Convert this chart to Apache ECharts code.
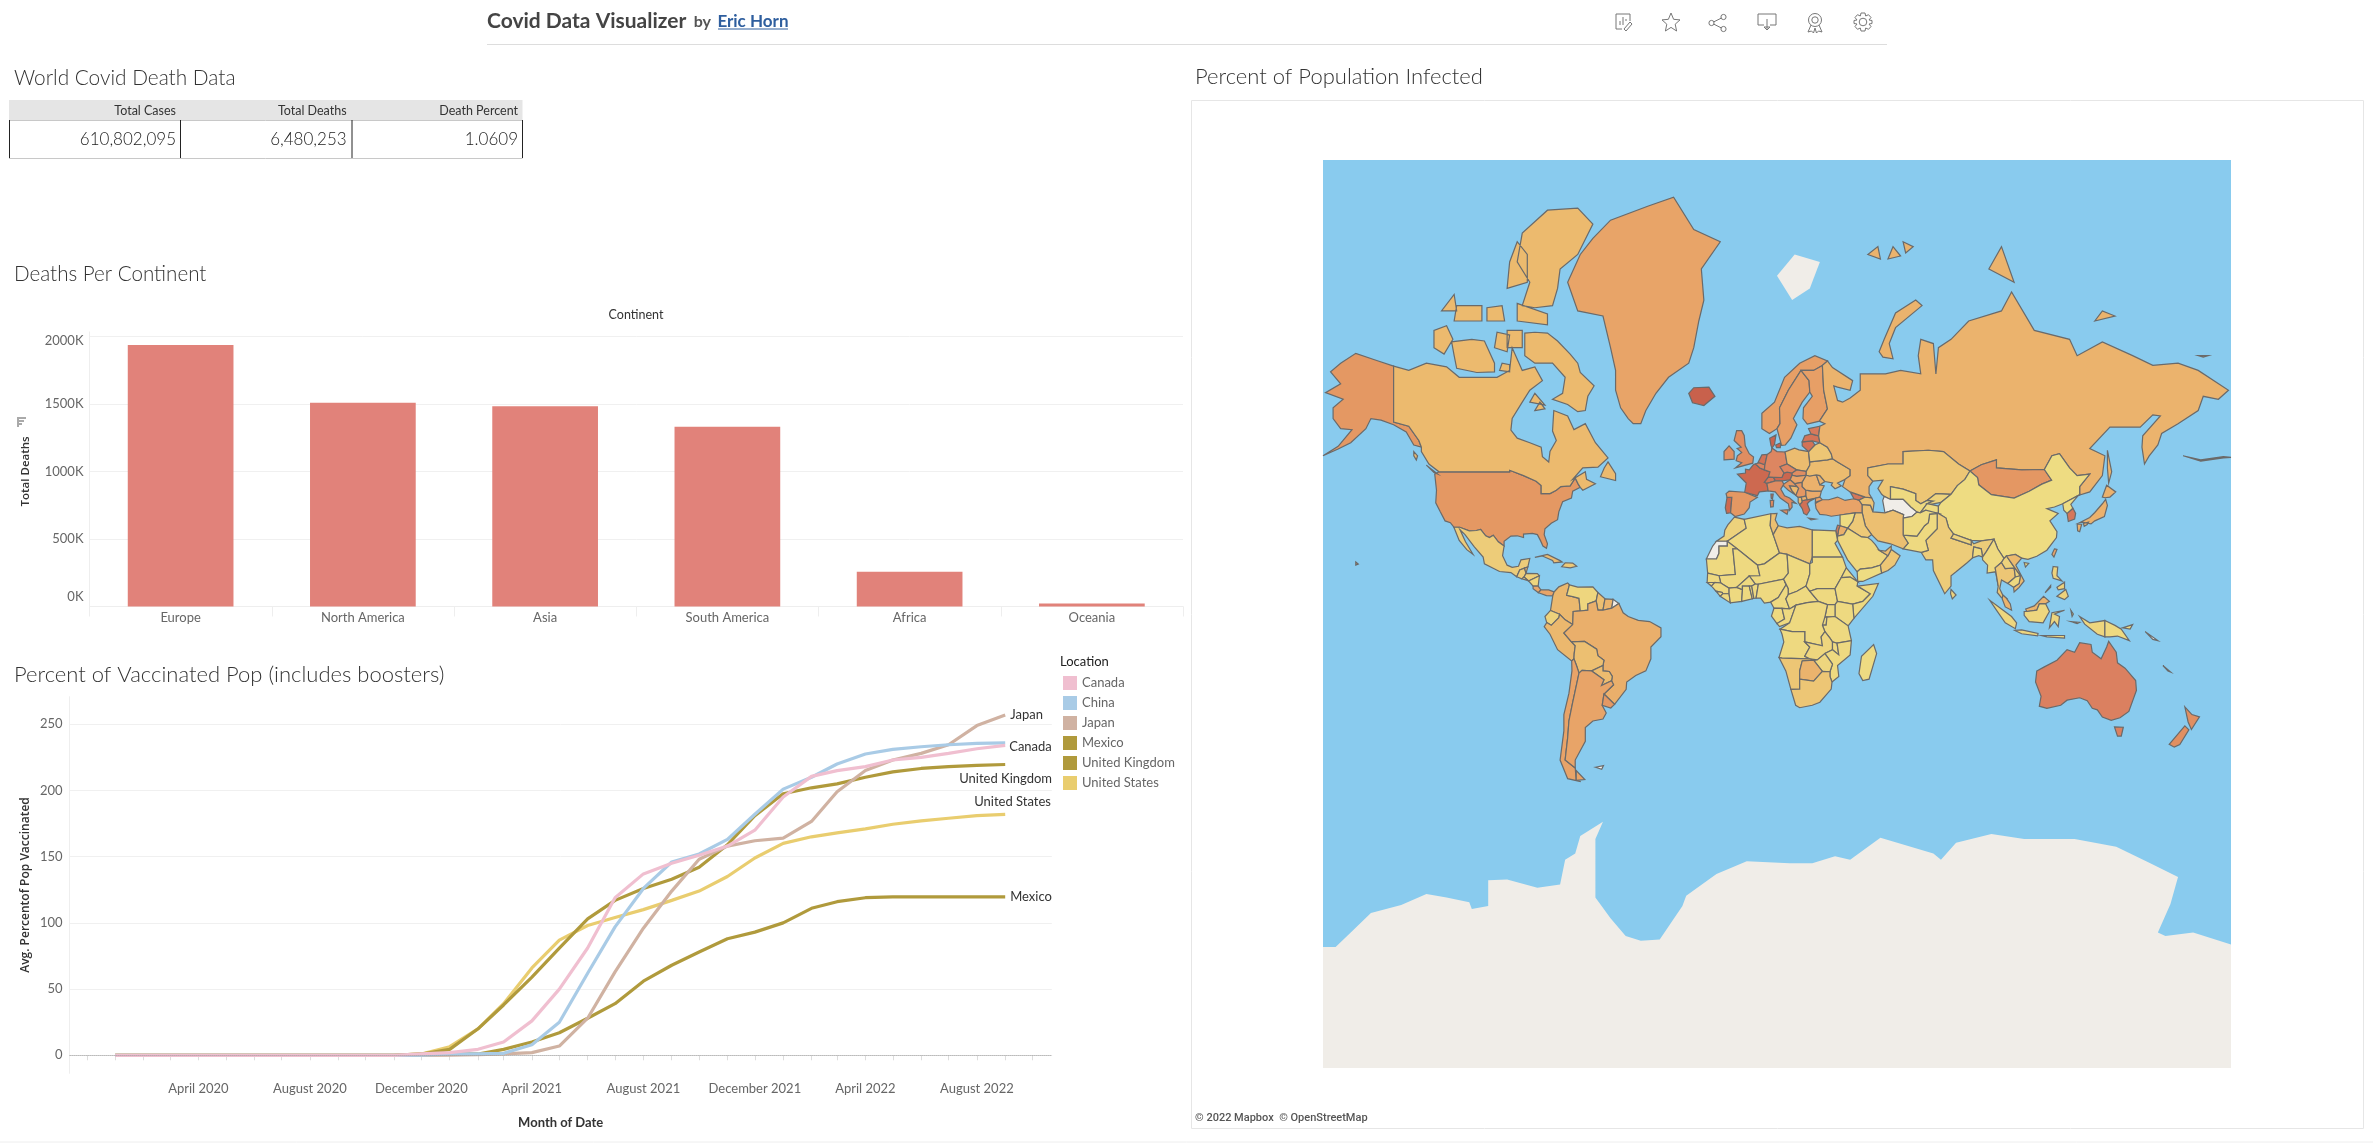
<!DOCTYPE html>
<html>
<head>
<meta charset="utf-8">
<title>Covid Data Visualizer</title>
<script src="https://cdn.jsdelivr.net/npm/echarts@6/dist/echarts.min.js"></script>
<style>
  html, body { margin: 0; padding: 0; background: #fff; }
  #main { width: 2373px; height: 1143px; }
</style>
</head>
<body>
<div id="main"></div>
<script>
// summary table
const tableHeaders = ['Total Cases', 'Total Deaths', 'Death Percent'];
const tableValues = ['610,802,095', '6,480,253', '1.0609'];

// deaths per continent
const continents = ['Europe', 'North America', 'Asia', 'South America', 'Africa', 'Oceania'];
const continentDeaths = [1935000, 1508000, 1483000, 1330000, 258000, 23000];

// vaccinated share per month
const months = [
  '2020-01-01', '2020-02-01', '2020-03-01', '2020-04-01', '2020-05-01', '2020-06-01', '2020-07-01', '2020-08-01',
  '2020-09-01', '2020-10-01', '2020-11-01', '2020-12-01', '2021-01-01', '2021-02-01', '2021-03-01', '2021-04-01',
  '2021-05-01', '2021-06-01', '2021-07-01', '2021-08-01', '2021-09-01', '2021-10-01', '2021-11-01', '2021-12-01',
  '2022-01-01', '2022-02-01', '2022-03-01', '2022-04-01', '2022-05-01', '2022-06-01', '2022-07-01', '2022-08-01', '2022-09-01'
];
const monthNames = ['January', 'February', 'March', 'April', 'May', 'June', 'July', 'August', 'September', 'October', 'November', 'December'];
const canada = [0, 0, 0, 0, 0, 0, 0, 0, 0, 0, 0, 1, 2, 4.5, 10, 26, 50, 81, 119, 137, 145, 151, 158, 170, 195, 210.6, 215, 218, 223, 225, 228, 231.5, 234];
const china = [0, 0, 0, 0, 0, 0, 0, 0, 0, 0, 0, 0.2, 1, 1, 1.5, 8, 25, 62, 97, 126, 146, 152, 163, 182, 201, 210, 220, 227.5, 231, 233, 234.5, 235.5, 236];
const japan = [0, 0, 0, 0, 0, 0, 0, 0, 0, 0, 0, 0, 0.2, 0.5, 1, 2, 7, 28, 63, 96, 124, 148, 158, 162, 164, 176.6, 199, 215, 223, 228, 234.5, 249, 257];
const mexico = [0, 0, 0, 0, 0, 0, 0, 0, 0, 0, 0, 0.5, 1, 1, 4.5, 10, 17, 28, 39, 56, 68, 78, 88, 93, 100, 111, 116, 119, 119.6, 119.6, 119.6, 119.6, 119.6];
const unitedKingdom = [0, 0, 0, 0, 0, 0, 0, 0, 0, 0, 0, 1, 4.5, 20, 38, 59, 81, 103, 117, 126, 133, 142, 159, 181, 197.5, 202, 205, 210, 214, 216.6, 218, 219, 219.6];
const unitedStates = [0, 0, 0, 0, 0, 0, 0, 0, 0, 0, 0, 1, 6.5, 20, 39, 66, 87, 98, 104, 110, 117, 124, 135, 149, 160, 165, 168, 171, 174.5, 177, 179, 181, 182];

// percent of population infected, countries left out have no data
const infectedNames = ['United States', 'Canada', 'Greenland', 'Mexico', 'Guatemala', 'Belize', 'Honduras', 'El Salvador', 'Nicaragua', 'Costa Rica', 'Panama', 'Cuba', 'Dominican Republic',
  'Colombia', 'Venezuela', 'Guyana', 'Suriname', 'Ecuador', 'Peru', 'Brazil', 'Bolivia', 'Paraguay', 'Chile', 'Argentina', 'Uruguay',
  'Iceland', 'Ireland', 'United Kingdom', 'Portugal', 'Spain', 'France', 'Belgium', 'Netherlands', 'Germany', 'Switzerland', 'Austria', 'Italy', 'Denmark', 'Norway', 'Sweden', 'Finland',
  'Poland', 'Czechia', 'Slovakia', 'Hungary', 'Croatia', 'Bosnia', 'Serbia', 'Albania', 'North Macedonia', 'Greece', 'Bulgaria', 'Romania', 'Moldova', 'Ukraine', 'Belarus', 'Lithuania', 'Latvia', 'Estonia',
  'Turkey', 'Georgia', 'Azerbaijan', 'Russia', 'Kazakhstan', 'Uzbekistan', 'Kyrgyzstan', 'Tajikistan', 'Mongolia', 'China', 'Taiwan', 'India', 'Pakistan', 'Afghanistan', 'Iran', 'Iraq', 'Syria', 'Jordan', 'Israel', 'Saudi Arabia', 'Yemen', 'Oman', 'UAE',
  'Nepal', 'Bangladesh', 'Sri Lanka', 'Myanmar', 'Thailand', 'Laos', 'Vietnam', 'Cambodia', 'Malaysia', 'Indonesia', 'Papua New Guinea', 'Philippines', 'Japan', 'South Korea', 'North Korea',
  'Morocco', 'Algeria', 'Tunisia', 'Libya', 'Egypt', 'Mauritania', 'Mali', 'Niger', 'Senegal', 'Guinea', 'Guinea-Bissau', 'Sierra Leone', 'Liberia', 'Ivory Coast', 'Burkina Faso', 'Ghana', 'Togo', 'Benin', 'Nigeria', 'Cameroon', 'Chad', 'Central African Republic', 'Sudan', 'South Sudan', 'Eritrea', 'Ethiopia', 'Somalia', 'Kenya', 'Uganda', 'Burundi', 'Tanzania', 'Gabon', 'Congo', 'DR Congo', 'Angola', 'Zambia', 'Malawi', 'Mozambique', 'Zimbabwe', 'Namibia', 'Botswana', 'South Africa', 'Madagascar',
  'Australia', 'New Zealand'];
const infectedPct = [28, 11, 21, 5, 5, 14, 4, 3, 2, 20, 21, 10, 6,
  12, 2, 9, 13, 3, 12, 16, 9, 10, 22, 21, 28,
  57, 33, 34, 52, 28, 52, 39, 47, 37, 45, 54, 35, 55, 24, 24, 24,
  10, 38, 34, 22, 28, 12, 29, 11, 15, 48, 18, 15, 14, 10, 7, 47, 46, 43,
  22, 45, 8, 14, 7, 1, 3, 0.5, 29, 0, 22, 5, 1, 0.5, 9, 6, 0.3, 16, 43, 2, 0.1, 7, 10,
  3, 1, 3, 1, 7, 3, 11, 1, 14, 2, 0.5, 3, 15, 45, 0,
  3, 0.6, 9, 7, 0.5, 1, 1, 1, 1, 1, 1, 1, 1, 1, 1, 1, 1, 1, 1, 1, 1, 1, 1, 1, 1, 1, 1, 1, 1, 1, 1, 1, 1, 1, 1, 2, 1, 1, 2, 7, 14, 7, 0.2,
  40, 33];

// outlines as "lon lat" pairs, ";" starts another polygon
const countryShapes = [
  ['United States', '-124.7 48.4,-123 49,-95 49,-95 49.4,-89.5 48,-84.5 46.5,-82.5 45.3,-82.5 43,-79 43,-76.5 44,-74.7 45,-71 45.2,-69 47.4,-67.8 45.7,-67 44.8,-70 43.7,-70.5 41.7,-74 40.6,-75.5 37.5,-76 35,-78.5 33.8,-81 32,-81.3 30,-80 26.8,-80.4 25.2,-81.8 26,-82.8 28,-84 30,-86 30.4,-89.5 30.2,-89.5 29,-92 29.6,-94.5 29.5,-97.2 27.7,-97.2 26,-99.5 27.5,-101.5 29.8,-103 29,-104.5 29.6,-106.5 31.8,-108.2 31.4,-111 31.3,-114.8 32.5,-117.1 32.5,-118.5 34,-120.6 34.6,-122.5 37.5,-124.3 40.3,-124 44;-141 69.6,-148 70.4,-156 71.3,-162 70,-166 68.8,-162 67,-168 65.6,-161 64.5,-165 63,-165 61,-162 59,-157.5 58.8,-163 55.2,-169 53,-163 54.6,-158 56,-152 59,-150 61,-146 60.7,-141 59.8,-136 58.3,-133 55.5,-130 55,-131 56.5,-135 59.5,-141 60.3;172 53,179 51.7,188 52.5,191 52.6,188 52.8,179 52;-156 20.2,-155 19.4,-156 19,-156 20'],
  ['Canada', '-141 69.6,-135 69,-128 70,-120 69.5,-115 68,-108 68,-100 68,-95 69,-94 72,-90 69,-85 69.5,-82 67.5,-87 66,-90 64,-94 61,-94.5 58.7,-92 57,-87 56,-82.5 55,-82 52.8,-79.5 51.5,-79 54,-76.5 56.5,-78 58.5,-77.5 62.5,-72 61.5,-69.5 58.8,-65 60,-61 56,-56 52.5,-60 50.2,-66 50,-70 47,-65 49,-64.5 47,-61 45.8,-66 44,-67 44.8,-67.8 45.7,-69 47.4,-71 45.2,-74.7 45,-76.5 44,-79 43,-82.5 43,-82.5 45.3,-84.5 46.5,-89.5 48,-95 49.4,-95 49,-123 49,-127 51,-130 54,-130 55,-131 56.5,-135 59.5,-141 60.3;-61.5 66.7,-64 65,-65 62.5,-68 62.3,-72 63.6,-78 64.5,-74 65.5,-73 68,-78 70,-85 70,-89 71,-89 73.7,-85 73.8,-80 73.7,-76 72.8,-71 71.2,-68 70,-67 68.7;-117 71,-116 69.3,-108 68.7,-101 68.8,-101 70,-105 72.8,-110 73,-118 72.7;-125 72,-121 71.2,-117.5 73,-120 74.5,-125 74;-90 76.5,-85 76.3,-78 76.5,-76 78,-75 79.5,-68 80.5,-62 82.3,-68 83.1,-80 83,-90 81.8,-92 80,-87 78.5;-92 75,-80 74.6,-80 75.7,-92 76.7;-117 75,-106 75,-106 76.5,-116 76.5;-96 72,-90 72,-90 74,-96 74;-96 78,-88 78.5,-88 80.5,-92 81.3,-95 80;-87 64,-81 63.5,-85 65.5;-59 47.7,-53 46.7,-53 48.5,-56 51.5,-57.5 50;-128 50.7,-123.5 48.4,-125 48.8;-133 54,-131.5 53,-132 52,-133 53;-101 72,-96 71.5,-95 73.5,-100 73.8;-99 69,-95 68.8,-95 69.8,-98 70;-122 76,-116 76,-117 77.5;-104 75,-97 75,-98 76.5,-104 76.3;-85 62.5,-81 62.8,-83 64'],
  ['Greenland', '-46 60,-43 60,-41 62.5,-37 65.5,-32 68,-24 70,-22 72,-20 75,-18 77,-19 79.5,-11.5 81.3,-22 82,-30 83.6,-40 83.2,-55 82.5,-62 81.5,-67 80.5,-72 78.5,-68 76,-58 75.5,-55 72,-53 69,-53 66,-51 63,-48 61'],
  ['Mexico', '-117.1 32.5,-114.8 32.5,-111 31.3,-108.2 31.4,-106.5 31.8,-104.5 29.6,-103 29,-101.5 29.8,-99.5 27.5,-97.2 26,-97.8 22.5,-96 19,-94 18.2,-91.5 18.6,-90.5 21,-87 21.5,-87.8 18.3,-89.1 17.9,-91 17.2,-92.2 14.6,-94.5 16.2,-99 16.6,-105 19.5,-105.5 22,-109 25.7,-112.7 30,-114.7 31.7,-112.5 27.5,-109.5 23,-112 24.7,-115 28'],
  ['Guatemala', '-92.2 14.6,-91 17.2,-89.1 17.9,-88.5 15.9,-89.3 14.5,-90.2 13.8'],
  ['Belize', '-89.1 17.9,-87.8 18.3,-88.5 15.9'],
  ['Honduras', '-89.3 14.5,-88.5 15.9,-84 15.8,-83.2 15,-87.5 13'],
  ['El Salvador', '-90.2 13.8,-89.3 14.5,-87.5 13'],
  ['Nicaragua', '-87.5 13,-83.2 15,-83.7 11,-85.7 11'],
  ['Costa Rica', '-85.7 11,-83.7 11,-82.6 9.5,-83.6 8.4,-85.7 10'],
  ['Panama', '-82.6 9.5,-79.5 9.5,-77.4 8.7,-77.9 7.2,-80.4 7.3,-83 8.2,-83.6 8.4'],
  ['Cuba', '-85 21.9,-80 23,-75 20.7,-74.2 20.2,-77.5 19.9,-78 20.8,-82 22.4'],
  ['Dominican Republic', '-74.4 18.4,-71 18,-68.4 18.6,-70 19.8,-73 19.9'],
  ['Colombia', '-77.4 8.7,-75.5 10.7,-72 12.2,-71.3 11.5,-72.4 7.4,-70 6.9,-67.5 6.2,-67 1.2,-69.8 1,-70 -4.2,-73 -2.3,-75.2 -0.1,-78.8 1.4,-77.9 7.2'],
  ['Venezuela', '-71.3 11.5,-68 10.6,-62 10.7,-60 8.5,-60.7 5.2,-64 4,-64 1.5,-67 1.2,-67.5 6.2,-70 6.9,-72.4 7.4'],
  ['Guyana', '-60 8.5,-57.2 6,-58 1.5,-60 1.5,-60.7 5.2'],
  ['Suriname', '-57.2 6,-54 5.8,-54.5 2.3,-58 1.5'],
  ['French Guiana', '-54 5.8,-51.7 4.2,-54.5 2.3'],
  ['Ecuador', '-78.8 1.4,-75.2 -0.1,-75.5 -1.5,-78.5 -4.5,-80.3 -3.4,-81 -1'],
  ['Peru', '-80.3 -3.4,-78.5 -4.5,-75.5 -1.5,-75.2 -0.1,-73 -2.3,-70 -4.2,-73.5 -7.5,-70.5 -11,-69 -12.5,-69.4 -15.5,-69.5 -17.5,-70.4 -18.3,-76 -14,-79 -8,-81.3 -5'],
  ['Brazil', '-60.7 5.2,-60 1.5,-58 1.5,-54.5 2.3,-51.7 4.2,-50 0.5,-48 -1,-44 -2.5,-39.5 -3,-35 -5.5,-35 -9,-39 -13,-39 -17.5,-41 -22,-45 -23.7,-48.6 -26,-48.8 -28.6,-53.4 -33.7,-57.6 -30.2,-53.8 -27,-54.6 -25.6,-54.3 -24,-55.5 -22.2,-58 -22,-58 -20,-57.6 -18,-60 -16.3,-60.5 -13.8,-65.3 -10.8,-70.5 -11,-73.5 -7.5,-70 -4.2,-69.8 1,-67 1.2,-64 1.5,-64 4'],
  ['Bolivia', '-69 -12.5,-70.5 -11,-65.3 -10.8,-60.5 -13.8,-60 -16.3,-57.6 -18,-58 -20,-62.5 -22,-66.3 -21.8,-67.5 -22.8,-68.5 -20,-69.5 -17.5,-69.4 -15.5'],
  ['Paraguay', '-58 -20,-58 -22,-55.5 -22.2,-54.3 -24,-54.6 -25.6,-58.6 -27.3,-57.6 -25.2,-62.5 -22'],
  ['Chile', '-70.4 -18.3,-69.5 -17.5,-68.5 -20,-67.5 -22.8,-68.5 -27,-70 -33,-71.5 -39,-72 -44,-73 -50,-69 -52,-68.6 -54.9,-66.8 -55.2,-72 -54.5,-75 -50,-73.5 -42,-73.5 -37,-71.5 -30,-70.3 -22'],
  ['Argentina', '-66.3 -21.8,-62.5 -22,-57.6 -25.2,-58.6 -27.3,-54.6 -25.6,-53.8 -27,-57.6 -30.2,-58.3 -34,-56.7 -36.5,-58 -38.4,-62 -39,-65 -41,-65 -45,-69 -50,-69 -52,-73 -50,-72 -44,-71.5 -39,-70 -33,-68.5 -27,-67.5 -22.8;-68.6 -52.6,-68.6 -54.9,-65.2 -54.7'],
  ['Uruguay', '-57.6 -30.2,-53.4 -33.7,-54.9 -34.9,-58.3 -34'],
  ['Falkland Islands', '-61 -51.8,-57.8 -51.4,-58.5 -52.3'],
  ['Iceland', '-24 65.5,-22 66.4,-16 66.5,-13.6 65,-18 63.4,-22.5 63.9'],
  ['Ireland', '-10 52,-6 52.2,-6 54,-8 55.3,-10 54'],
  ['United Kingdom', '-5.5 50,1.4 51.2,1.7 52.7,0 53.5,-1.6 55.3,-2 57.6,-3 58.6,-5 58.6,-6 56.5,-3.2 55,-4.8 54.7,-3 53.8,-4.7 53,-5.2 51.8,-3 51.3'],
  ['Portugal', '-9 37,-7.4 37.2,-6.9 41.9,-8.8 41.9,-9.5 38.8'],
  ['Spain', '-7.4 37.2,-5.6 36,-2 36.8,0 38.8,0.3 40.5,3.2 41.9,-1.8 43.4,-8 43.7,-9.2 43,-8.8 41.9,-6.9 41.9'],
  ['France', '-1.8 43.4,3.2 42.4,4 43.5,7.5 43.8,7 45.9,6 46.2,7.6 47.6,8.2 49,6 49.5,4.2 50,2.5 51,1.6 50.8,0 49.5,-1.5 49.7,-1.5 48.7,-4.7 48.4,-1.2 46;8.6 42.9,9.5 42.9,9.2 41.4,8.7 41.7'],
  ['Belgium', '2.5 51,4.2 50,6 49.5,6.2 50.8,4.2 51.4'],
  ['Netherlands', '3.5 51.4,6.2 50.8,7.1 53.3,5 53.2'],
  ['Germany', '6.2 50.8,6 49.5,8.2 49,7.6 47.6,13 47.5,13.8 48.7,12.2 50.3,15 51,14.2 53.9,11 54,9 54.8,8.7 54,7.1 53.3'],
  ['Switzerland', '6 46.2,7 45.9,10.4 46.6,9.6 47.5,7.6 47.6'],
  ['Austria', '9.6 47.5,10.4 46.6,13 46.6,16.2 46.9,17 48.1,17 48.7,15 48.9,13.8 48.7,13 47.5'],
  ['Italy', '7 45.9,7.5 43.8,10.3 43.5,12.3 41.7,15.5 40,16 38,17 39,16.9 40.4,18.5 40.1,16 41.7,14 42.4,12.5 44.3,13.7 45.7,13 46.6,10.4 46.6;12.5 38,15.5 38.2,15 36.7;8.3 41,9.7 41,9.5 39.1,8.5 39'],
  ['Denmark', '8.1 57,10.6 57.7,10 55.6,9 54.8,8.6 55.4;10.5 55.5,12.5 56,12.3 54.9,10.8 54.9'],
  ['Norway', '5 59,5 62,10 64,14 68,20 70,26 71,31 70.3,29 69.7,25.5 69,20.5 69,15.5 66,12 63,12.2 60,11 59,8 58'],
  ['Sweden', '11 59,12.2 60,12 63,15.5 66,20.5 69,23.7 67.5,24 65.7,21 64,17.5 61,18.9 59.8,16.5 57,14.3 55.5,12.8 55.4'],
  ['Finland', '23.7 67.5,20.5 69,25.5 69,29 69.7,29.5 66,31 62.8,27.8 60.5,23 59.9,21.3 61,21.5 63,25 65,24 65.7'],
  ['Poland', '14.2 53.9,15 51,18.8 49.5,22.6 49.1,24 50.7,23.5 54,19.7 54.4,18 54.8'],
  ['Czechia', '12.2 50.3,13.8 48.7,15 48.9,17 48.7,18.8 49.5,15 51'],
  ['Slovakia', '17 48.1,18.8 47.8,22.6 48.1,22.6 49.1,18.8 49.5,17 48.7'],
  ['Hungary', '16.2 46.9,18 45.8,21 46.2,22.6 48.1,18.8 47.8,17 48.1'],
  ['Croatia', '13.6 45.2,15.5 44,18.5 42.5,17 43.8,16 45.2,19 45,18 45.8,16.2 46.9,13.7 45.7'],
  ['Bosnia', '16 45.2,17 43.8,18.5 42.5,19.6 44.5,19 45'],
  ['Serbia', '19 45,19.6 44.5,18.5 42.5,19.4 41.9,20.6 42,22.5 42.3,22.4 44,21 45,21 46.2,18 45.8'],
  ['Albania', '19.4 41.9,20.6 42,21 40.9,21 40.5,20 39.7,19.4 40.5'],
  ['North Macedonia', '20.6 42,22.5 42.3,23 41.2,21 40.9'],
  ['Greece', '20 39.7,21 40.5,21 40.9,23 41.2,26.3 41.7,24 40.8,23 40,24 38,22.8 36.5,21.6 37,21 38.5;23.5 35.5,26.3 35.2,24.5 34.9'],
  ['Bulgaria', '22.4 44,22.5 42.3,23 41.2,26.3 41.7,28 42,28.6 43.7,25 43.7'],
  ['Romania', '21 46.2,21 45,22.4 44,25 43.7,28.6 43.7,29.7 45.2,28 45.5,26.6 48.2,24 47.9,22.6 48.1'],
  ['Moldova', '26.6 48.2,28 45.5,30 46.4,28 48'],
  ['Ukraine', '24 50.7,22.6 49.1,22.6 48.1,24 47.9,26.6 48.2,28 48,30 46.4,33 46,32.5 45.4,34 44.4,36.5 45.2,35 46,38 47,40 48,40 49.6,35 51.5,33 52.3,31 52,24 51.5'],
  ['Belarus', '24 51.5,31 52,33 52.3,32.5 53.5,31 55,28 56,26 55.5,23.5 54'],
  ['Lithuania', '21 55.3,23.5 54,26 55.5,25 56.4,21 56.2'],
  ['Latvia', '21 56.2,25 56.4,28 56,27.5 57.5,24.5 57.9,22 57.5'],
  ['Estonia', '23.5 59,28 59.5,27.5 57.5,24.5 57.9'],
  ['Turkey', '26.2 40,26.5 38.5,28 36.7,30.5 36.5,32.5 36.1,36 36.5,36.2 36.8,42 37.2,44.8 37.2,44.8 39.7,43.5 41.1,41.5 41.5,38 41,35 42,31.5 41.2,29 41.2,27 40.5;26.3 41.7,28 42,29 41.2,26.2 40.4'],
  ['Georgia', '40 43.5,46 42,43.5 41.1,41.5 41.5'],
  ['Azerbaijan', '43.5 41.1,46 42,48.5 41.8,49.5 40.3,49 37.5,48 39.5,44.8 39.7'],
  ['Russia', '28 59.5,30 60,27.8 60.5,31 62.8,29.5 66,29 69.7,31 70.3,33 69.4,41 67.5,40 66,35 66.5,33.5 66.7,35 64.3,37 64,40 64.7,44 66,44 68.5,54 68.5,60 69,68 68.5,67 71,68 73,73 72.5,74 68.5,75 72,80 73,87 75,100 76,104 77.7,113 74,127 73,130 71,140 72.7,152 71,160 69.7,170 70,178 69,190 66,186 64.5,180 65,178 62.5,170 60,163.5 58,162 55.5,158.5 52.9,156.7 51,155.7 55,156 57.5,163 61.5,160 61.7,155 59.3,143 59.3,135 54.7,141 53,140 48,135 43.5,131 42.6,131 45,135 48.4,130 48,127 50,123 53.5,120 53,117 49.6,108 49.5,98 50,98 52,92 50.8,87.5 49.2,83 51,77 54,71 54.3,61 54,61 51,55 51,47 50,47 48,49 46.5,47.5 45,47.5 43,48.5 41.8,46 42,40 43.5,37 45,38 47,40 48,40 49.6,35 51.5,33 52.3,32.5 53.5,31 55,28 56,27.5 57.5;142 54.3,143.7 49,142.5 46,142 50;51.5 71.5,53 70.8,57 70.6,55.5 72.5,58 74.3,68.5 76.5,66 77,58 75.8,53.5 73;95 79.5,105 78.5,100 81;137 75,145 75.5,140 76;47 80.5,52 80.2,51 81;55 80.2,60 80.4,57 81;62 80.6,65 81,61 81.3;178 71,182 71,180 70.8'],
  ['Kazakhstan', '47 50,55 51,61 51,61 54,71 54.3,77 54,83 51,87.5 49.2,85.5 47,82.5 45.3,80 42.8,74 43,70.5 41,68 40,66 41,66 43,61 44.3,56 45,56 41.3,53.5 42.2,52.5 42.8,51 44.5,53 46.8,49 46.5,47 48'],
  ['Uzbekistan', '56 45,61 44.3,66 43,66 41,68 40,70.5 41,73 40.8,70.5 40,67.8 37.2,66.5 37.4,64 39,61 41.3,56 41.3'],
  ['Turkmenistan', '53.5 42.2,52.9 41,53.8 37.2,57 38,61.2 36.6,61 35.5,64.5 36,66.5 37.4,64 39,61 41.3,56 41.3'],
  ['Kyrgyzstan', '70.5 41,74 43,80 42.8,76 40.4,72 39.8,70.5 40,73 40.8'],
  ['Tajikistan', '67.8 37.2,70.5 40,72 39.8,75 39.3,75 37,71.5 36.8,70 38'],
  ['Mongolia', '87.5 49.2,92 50.8,98 52,98 50,108 49.5,117 49.6,119.9 46.8,116 45.7,111 43.7,105 41.7,96 42.7,91 45.5,90.5 47.5'],
  ['China', '131 45,135 48.4,130 48,127 50,123 53.5,120 53,117 49.6,119.9 46.8,116 45.7,111 43.7,105 41.7,96 42.7,91 45.5,90.5 47.5,87.5 49.2,85.5 47,82.5 45.3,80 42.8,76 40.4,75 39.3,75 37,78 35.5,79 32.5,81 30.2,88 28,92 27.8,97 28.4,98.5 25,101 21.5,102 22.4,105.5 23,108 21.6,110.5 21.2,114 22.3,118 24.5,121.8 29,122 31,119.2 34.6,122.5 37,118 38.5,121 39,124.3 40,128 41.5,130.5 42.5,131 42.6;109 20,110.8 19.7,109.5 18.3'],
  ['Taiwan', '121 25,122 24.8,120.8 22,120 23'],
  ['India', '74.5 37,75 37,78 35.5,79 32.5,81 30.2,80 28.8,88 26.4,88 28,89 26.8,92 27.8,97 28.4,94 24,92.5 22,92 25,89 25.7,88.5 21.7,86.5 20,82 16.5,80 15,80 11,77.5 8,76 11,73 17,72.7 21,70 21,68.2 23.7,71 24.5,70 28,74.5 32,74.5 34.5'],
  ['Pakistan', '61 25,68.2 23.7,71 24.5,70 28,74.5 32,74.5 34.5,74.5 37,71.5 36.8,71 34,69.5 33,66.5 29.5,61 29.8,63 27'],
  ['Afghanistan', '61 29.8,66.5 29.5,69.5 33,71 34,71.5 36.8,75 37,70 38,67.8 37.2,66.5 37.4,64.5 36,61 35.5'],
  ['Iran', '44.8 39.7,44.8 37.2,46 33,48.5 30,51 27.8,56 26.8,61 25,63 27,61 29.8,61 35.5,61.2 36.6,57 38,53.8 37.2,49 37.5,48 39.5'],
  ['Iraq', '42 37.2,44.8 37.2,46 33,48.5 30,47 29,44.5 29.2,39 32.2,41 34.5'],
  ['Syria', '36 36.5,36.2 36.8,42 37.2,41 34.5,39 32.2,36 33'],
  ['Jordan', '36 33,39 32.2,37.5 30,35 29.5,35.5 32'],
  ['Israel', '34.3 31.3,35 33.2,36 33,35.5 32,35 29.5'],
  ['Saudi Arabia', '35 29.5,37.5 30,39 32.2,44.5 29.2,47 29,48.5 28,50 26.5,51.5 24.5,55 22.5,52 19,48.5 18,44 17.5,42.8 16.5,39 21,35 28'],
  ['Yemen', '43 12.8,45 12.8,52.5 16,52 19,48.5 18,44 17.5,42.8 16.5'],
  ['Oman', '52 19,55 22.5,56.3 24.8,59.8 22.5,57.7 19,55 17,52.5 16'],
  ['UAE', '51.5 24.5,54 24.2,56.3 26,56.3 24.8,55 22.5'],
  ['Nepal', '80 28.8,81 30.2,88 28,88 26.4'],
  ['Bangladesh', '89 25.7,92 25,92.5 22,91 22.5,88.5 21.7'],
  ['Sri Lanka', '80 9.7,82 7.5,80.5 6,79.8 8'],
  ['Myanmar', '92.5 22,94 24,97 28.4,98.5 25,101 21.5,100 20,97.5 18,98.7 11,97.7 16.5,94.3 16,94.5 19,92.5 21'],
  ['Thailand', '97.5 18,100 20,101.5 17.7,105 18,105.5 14.5,102.5 12,100 13.4,99.3 10,100.5 7.5,102 6.2,100 6.5,98.3 8.5,98.7 11'],
  ['Laos', '101 21.5,102 22.4,104.5 19,107.5 15,105.5 14.5,105 18,101.5 17.7,100 20'],
  ['Vietnam', '102 22.4,105.5 23,108 21.6,105.7 19,109 13,107 10.5,105 8.7,104.8 10.5,107 12,107.5 15,104.5 19'],
  ['Cambodia', '105.5 14.5,107.5 15,107 12,104.8 10.5,102.5 12'],
  ['Malaysia', '100.5 7.5,102 6.2,103.5 4,104 1.5,101.5 2.8,100.3 6;109.6 2,113 3.2,116.7 7,119 5,117.5 4.1,115 4,114 1.5,110 1'],
  ['Indonesia', '109 1,110 1,114 1.5,115 4,117.5 4.1,119 1,116.5 -3.5,111 -3,109 -0.5;95.3 5.5,100 2,104 -1,106 -3.5,105.5 -5.8,101.5 -3.5,98 1.5;105.3 -6.5,108 -6.3,114.5 -7.7,114.3 -8.6,108 -7.8;119 -5.5,120 0.5,125 1.5,121 0,123 -1,122.5 -5,121 -3;131 -1,135 -3.5,141 -2.6,141 -9,138 -8,133 -4;116 -8.5,125 -8.5,125 -9.5,118 -9;127.5 1.5,128.5 0,128 -1;127.5 -3,131 -3.3,130 -3.8'],
  ['Papua New Guinea', '141 -2.6,145 -4.5,147.5 -6,150.7 -10.5,146 -8.7,143 -9,141 -9;148 -5.5,152 -4.2,151 -6'],
  ['Solomon Islands', '157 -7,162 -10.5,160 -10'],
  ['New Caledonia', '164 -20,167 -22.4,166 -22'],
  ['Philippines', '120.5 18.5,122.3 18.3,122 15,124 13,120.5 14,120 16;122 7,125.5 9.7,126.5 7,125 5.7;117.3 8.4,119.5 11.2,119.5 10.5;122 10.5,125 12.5,125 10,122.5 9.5'],
  ['Japan', '130.9 34,135 35.7,137 37.3,140 40,141.3 41.3,142 39.5,140.8 36,137 34.6,135.5 33.6,132 34.2;130 33.5,131.8 33.5,131 31,130.2 31.3;140 42,141.7 45.4,145.3 43.5,143 42,141 41.8;132.5 33.8,134.5 34.2,134 33.4,132.8 32.8'],
  ['South Korea', '126 37,128.3 38.6,129.4 37,129 35.2,126.5 34.4'],
  ['North Korea', '124.3 40,128 41.5,130.5 42.5,127.5 39.8,128.3 38.6,126 37,124.7 38'],
  ['Morocco', '-5.9 35.8,-2 35.1,-1.2 32.2,-8.7 27.7,-13 27.7,-10 29.5,-9.7 31.5,-8.5 33.3'],
  ['Western Sahara', '-13 27.7,-8.7 27.7,-8.7 26,-12 26,-12 23.4,-13 21.3,-17 21.3,-14.5 26'],
  ['Algeria', '-2 35.1,8.6 36.9,8.3 33,9.5 30,12 23.5,6 19.5,3.3 19,-4.8 25,-8.7 27.7,-1.2 32.2'],
  ['Tunisia', '8.6 36.9,11 37,10.3 35,11.5 33,9.5 30,8.3 33'],
  ['Libya', '11.5 33,15 32.3,20 32.8,25 31.6,25 22,24 19.5,15 23,12 23.5,9.5 30'],
  ['Egypt', '25 31.6,34.3 31.3,35 28,34 27,37 22,25 22'],
  ['Mauritania', '-17 21.3,-13 21.3,-12 23.4,-12 26,-8.7 26,-8.7 27.7,-4.8 25,-6.5 25,-5.5 15.5,-12 15,-16.5 16'],
  ['Mali', '-12 15,-5.5 15.5,-6.5 25,-4.8 25,3.3 19,4.2 15,0 14.9,-5 10.5,-8 10.2,-11.3 12.2'],
  ['Niger', '4.2 15,3.3 19,6 19.5,12 23.5,15 23,15.5 16,13.6 13.7,3.6 11.7,2.4 11.8,0 14.9'],
  ['Senegal', '-16.5 16,-12 15,-11.3 12.2,-13.7 12.4,-16.7 12.4'],
  ['Guinea-Bissau', '-16.7 12.4,-13.7 12.4,-15 11'],
  ['Guinea', '-15 11,-13.7 12.4,-11.3 12.2,-8 10.2,-8 8,-10.5 8,-10.7 8.5,-13.2 9'],
  ['Sierra Leone', '-13.2 9,-10.7 8.5,-10.5 8,-11.5 7'],
  ['Liberia', '-11.5 7,-10.5 8,-8 8,-7.5 4.4'],
  ['Ivory Coast', '-8 8,-8 10.2,-5 10.5,-2.7 9.6,-3 5,-7.5 4.4'],
  ['Burkina Faso', '-5 10.5,0 14.9,2.4 11.8,1 11,0 11,-2.7 11,-2.7 9.6'],
  ['Ghana', '-2.7 11,0 11,1.2 6,-3 5,-2.7 9.6'],
  ['Togo', '0 11,1 11,1.8 6.2,1.2 6'],
  ['Benin', '1 11,2.4 11.8,3.6 11.7,2.7 6.3,1.8 6.2'],
  ['Nigeria', '2.7 6.3,3.6 11.7,13.6 13.7,14.6 11.5,11.5 6.5,8.5 4.7,6 4.3,4.5 6.3'],
  ['Cameroon', '8.5 4.7,11.5 6.5,14.6 11.5,14 13,15.5 10,15.5 7.7,14.5 6,16 2,13 2.2,9.8 2.3'],
  ['Chad', '13.6 13.7,15.5 16,15 23,24 19.5,24 15.7,22.5 11,18.9 9,15.5 7.7,15.5 10,14 13'],
  ['Central African Republic', '14.5 6,15.5 7.7,18.9 9,22.5 11,24 9,27.4 5,23 4.5,18.5 3.5,16 2'],
  ['Sudan', '24 19.5,25 20,25 22,37 22,38.5 18,36.5 14.3,34 10,33 10,27 10,24 9,22.5 11,24 15.7'],
  ['South Sudan', '24 9,27 10,33 10,34 10,35 5,34 3.7,31 3.7,27.4 5'],
  ['Eritrea', '38.5 18,43 12.7,40 14.5,36.5 14.3'],
  ['Ethiopia', '36.5 14.3,40 14.5,43 12.7,42.8 11,48 8,45 5,41 3.9,35 5,34 10'],
  ['Somalia', '43 11,51.2 12,49 7,41.5 -1.7,41 3.9,45 5,48 8'],
  ['Kenya', '35 5,41 3.9,41.5 -1.7,39.2 -4.7,34 -1,34 3.7'],
  ['Uganda', '31 3.7,34 3.7,34 -1,30 -1.2'],
  ['Burundi', '29 -1.2,30 -1.2,30.8 -1.2,30.5 -4.4,29 -4.4'],
  ['Tanzania', '30.8 -1.2,34 -1,39.2 -4.7,40.5 -10.5,34.8 -11.5,33 -11,32 -9.5,30 -7,29 -4.4,30.5 -4.4'],
  ['Gabon', '9.8 2.3,13 2.2,14 -2,11 -3.8,8.8 -0.8'],
  ['Congo', '13 2.2,16 2,18.5 3.5,16 -3.5,12 -5,11 -3.8,14 -2'],
  ['DR Congo', '18.5 3.5,23 4.5,27.4 5,31 3.7,30 -1.2,29 -4.4,30 -7,28.5 -9,29 -12.5,22 -11,22 -7,17 -7,12.2 -6,16 -3.5'],
  ['Angola', '12.2 -6,17 -7,22 -7,22 -11,24 -13,22 -16.5,24 -17.5,13 -17.2,11.8 -17,13.7 -11,13 -8'],
  ['Zambia', '22 -11,29 -12.5,28.5 -9,30 -7,32 -9.5,33 -11,33 -14,30 -15.5,27 -17.9,24 -17.5,22 -16.5,24 -13'],
  ['Malawi', '33 -11,34.8 -11.5,35.5 -16,33 -14'],
  ['Mozambique', '34.8 -11.5,40.5 -10.5,40 -16,35 -20,35.5 -24,32.8 -26,32 -24,32 -22.3,33 -19.5,30 -15.5,33 -14,35.5 -16'],
  ['Zimbabwe', '27 -17.9,30 -15.5,33 -19.5,32 -22.3,29 -22.2,25.5 -18'],
  ['Namibia', '11.8 -17,13 -17.2,24 -17.5,25.5 -18,21 -18.3,20 -22,20 -28.5,16.5 -28.6,14.5 -22'],
  ['Botswana', '21 -18.3,25.5 -18,29 -22.2,25.5 -25.7,20 -25,20 -22'],
  ['South Africa', '16.5 -28.6,20 -28.5,20 -25,25.5 -25.7,29 -22.2,32 -22.3,32 -24,32.8 -26,32.5 -28.5,28 -33,25 -34,20 -34.8,18.4 -34'],
  ['Madagascar', '49.3 -12,50.5 -15.5,47.5 -25,45 -25.5,43.5 -23,44.5 -16.5'],
  ['Australia', '114 -22,116.8 -20.6,122 -18,126 -14,129 -15,131 -11.3,135.5 -12,136 -15,139.5 -17.5,141.7 -13,142.5 -10.8,145.5 -15,146 -19,149 -21,153.2 -25.5,153.5 -29,150.5 -36,147 -38,143.5 -38.8,140 -37.8,138 -35.5,136 -35,134 -32.5,131 -31.5,126 -32.3,123.5 -34,118 -35,115 -34.3,115.7 -31,113.5 -26;144.8 -40.8,148.3 -40.9,147.5 -43.5,146 -43.5'],
  ['New Zealand', '172.7 -34.5,175.5 -37,178.5 -37.7,175.3 -41.6,174 -39.3;172.7 -40.5,174.3 -41.7,170.7 -45.9,168.5 -46.6,166.5 -45.8']
];

// ocean, ice and land without data sit under the countries
const baseShapes = [
  ['Ocean', '-169 85.05,191 85.05,191 -85.05,-169 -85.05'],
  ['Svalbard', '11 79,17 77,24 78,28 80,18 80.5'],
  ['Antarctica', '-169 -78.6,-164 -78.6,-158 -77.4,-150 -75.6,-138 -74.8,-128 -73.6,-120 -74,-111 -74.5,-110 -75.2,-103.5 -74.9,-103.5 -72,-96 -71.9,-84 -72.9,-75 -72.5,-73 -69.3,-69 -68.4,-67 -65.7,-58 -63.3,-61 -66.2,-61 -74,-55 -76.1,-49 -77.7,-43 -78.1,-35.5 -78,-26.5 -74.9,-25 -73.8,-13 -71.2,-1 -69.5,16 -69.8,25 -69.8,34 -68.8,40 -69.3,52 -66,64 -67.4,73 -68.4,76 -69.3,82 -66.8,96 -65.4,109 -66.2,129 -66.2,145.5 -67.4,159 -69.8,170 -71.6,167 -74.7,162 -77.4,165 -77.7,176 -77.4,191 -78.4,191 -85.05,-169 -85.05']
];

const lightFont = 'Lato';
const oliveLine = '#B09A3C';

// shapes list -> geojson for registerMap
function toGeoJson(shapes) {
  return {
    type: 'FeatureCollection',
    features: shapes.map(function (s) {
      return {
        type: 'Feature',
        properties: { name: s[0] },
        geometry: {
          type: 'MultiPolygon',
          coordinates: s[1].split(';').map(function (ring) {
            return [ring.split(',').map(function (p) { return p.trim().split(' ').map(Number); })];
          })
        }
      };
    })
  };
}

// web mercator, y grows downwards
const mercator = {
  project: function (c) {
    return [c[0], -Math.log(Math.tan(Math.PI / 4 + c[1] * Math.PI / 360)) * 180 / Math.PI];
  },
  unproject: function (p) {
    return [p[0], (2 * Math.atan(Math.exp(-p[1] * Math.PI / 180)) - Math.PI / 2) * 180 / Math.PI];
  }
};
const mapBounds = [[-169, 85.05], [191, -85.05]];

echarts.registerMap('base', toGeoJson(baseShapes));
echarts.registerMap('countries', toGeoJson(countryShapes));

const myChart = echarts.init(document.getElementById('main'));

function makeLine(name, values, color, labelOffset) {
  return {
    name: name,
    type: 'line',
    xAxisIndex: 1,
    yAxisIndex: 1,
    data: months.map(function (m, i) { return [m, values[i]]; }),
    showSymbol: false,
    silent: true,
    lineStyle: { color: color, width: 3.2 },
    itemStyle: { color: color },
    endLabel: labelOffset ? {
      show: true,
      formatter: '{a}',
      color: '#333',
      fontFamily: lightFont,
      fontSize: 13,
      offset: labelOffset
    } : { show: false }
  };
}

// top toolbar icons: centre x, polylines, circles (18px box)
const toolbarIcons = [
  [1623, [[[16, 8], [16, 1], [2, 1], [2, 16], [8, 16]], [[6, 12], [6, 8]], [[9, 12], [9, 4]], [[12, 8], [12, 6]], [[10, 16], [16, 9], [18, 11], [12, 18], [10, 16]]], []],
  [1671, [[[9, 0], [11.6, 6.3], [18, 6.9], [13.2, 11.2], [14.6, 18], [9, 14.4], [3.4, 18], [4.8, 11.2], [0, 6.9], [6.4, 6.3], [9, 0]]], []],
  [1718, [[[4.5, 9], [12.5, 5]], [[4.5, 11], [12.5, 15]]], [[14.5, 4, 2.6], [2.5, 10, 2.6], [14.5, 16, 2.6]]],
  [1767, [[[6, 12], [0, 12], [0, 1], [18, 1], [18, 12], [12, 12]], [[9, 6], [9, 16]], [[6, 14], [9, 17], [12, 14], [6, 14]]], []],
  [1815, [[[5, 12], [2, 19], [5.5, 18], [7.5, 20], [9, 15]], [[13, 12], [16, 19], [12.5, 18], [10.5, 20], [9, 15]]], [[9, 7, 6.5], [9, 7, 3.2]]],
  [1863, [[[7, 0], [11, 0], [11.7, 3], [14.5, 1.7], [17, 4.5], [15, 7], [18, 7.5], [18, 10.5], [15, 11], [17, 13.5], [14.5, 16.3], [11.7, 15], [11, 18], [7, 18], [6.3, 15], [3.5, 16.3], [1, 13.5], [3, 11], [0, 10.5], [0, 7.5], [3, 7], [1, 4.5], [3.5, 1.7], [6.3, 3], [7, 0]]], [[9, 9, 3.8]]]
];

function hLine(x1, x2, y, color, width) {
  return { type: 'line', silent: true, shape: { x1: x1, y1: y, x2: x2, y2: y }, style: { stroke: color, lineWidth: width || 1 } };
}
function vLine(x, y1, y2, color, width) {
  return { type: 'line', silent: true, shape: { x1: x, y1: y1, x2: x, y2: y2 }, style: { stroke: color, lineWidth: width || 1 } };
}

const tableRight = [176, 346.6, 518];
const graphics = [
  hLine(487, 1887, 44.5, '#DDDDDD'),
  hLine(718, 788, 29, '#2E5E9E', 1.2),
  { type: 'rect', silent: true, shape: { x: 1191.5, y: 100.5, width: 1172, height: 1028 }, style: { fill: 'none', stroke: '#E6E6E6' } },
  hLine(0, 2373, 1142, '#EEEEEE'),
  // summary table
  { type: 'rect', silent: true, shape: { x: 9, y: 100, width: 513.5, height: 20 }, style: { fill: '#E5E5E5' } },
  hLine(9, 522.5, 120.5, '#C8C8C8'),
  hLine(9, 522.5, 158.5, '#C8C8C8'),
  vLine(9.5, 120, 158, '#222'),
  vLine(180.5, 120, 158, '#222'),
  vLine(352, 120, 158, '#222'),
  vLine(522.5, 120, 158, '#222'),
  // extends the bar value axis above the top tick, and the sort mark
  vLine(89.5, 331.5, 336, '#EEEEEE'),
  vLine(18, 417, 427, '#555'),
  hLine(19, 26, 418, '#555'),
  hLine(19, 24, 421, '#555'),
  hLine(19, 22, 424, '#555')
];
tableHeaders.forEach(function (h, i) {
  graphics.push({ type: 'text', silent: true, x: tableRight[i], y: 111, style: { text: h, align: 'right', verticalAlign: 'middle', font: '12.5px ' + lightFont, fill: '#333' } });
  graphics.push({ type: 'text', silent: true, x: tableRight[i], y: 140, style: { text: tableValues[i], align: 'right', verticalAlign: 'middle', font: '300 17px ' + lightFont, fill: '#222' } });
});
toolbarIcons.forEach(function (ic) {
  const x0 = ic[0] - 9;
  const y0 = 13;
  ic[1].forEach(function (pts) {
    graphics.push({ type: 'polyline', silent: true, x: x0, y: y0, shape: { points: pts }, style: { fill: 'none', stroke: '#777', lineWidth: 1 } });
  });
  ic[2].forEach(function (c) {
    graphics.push({ type: 'circle', silent: true, x: x0, y: y0, shape: { cx: c[0], cy: c[1], r: c[2] }, style: { fill: 'none', stroke: '#777', lineWidth: 1 } });
  });
});

function heading(text, x, cy, size) {
  return { text: text, left: x, top: cy - 13, padding: 0, textStyle: { fontFamily: lightFont, fontWeight: 300, fontSize: size, color: '#333', lineHeight: 26 } };
}

const lineSeries = [
  makeLine('United States', unitedStates, '#E9CD6F', [-39, -12]),
  makeLine('United Kingdom', unitedKingdom, oliveLine, [-54, 14]),
  makeLine('Mexico', mexico, oliveLine, [-3, 0]),
  makeLine('Japan', japan, '#D0B2A2', [-3, 0]),
  makeLine('China', china, '#A9CBE6', null),
  makeLine('Canada', canada, '#F0BFD0', [-4, 1])
];
// dotted zero line
lineSeries[0].markLine = {
  silent: true,
  symbol: 'none',
  label: { show: false },
  lineStyle: { type: 'dotted', color: '#999', width: 1 },
  data: [{ yAxis: 0 }]
};

const option = {
  animation: false,
  backgroundColor: '#ffffff',
  textStyle: { fontFamily: lightFont },
  title: [
    {
      text: '{a|Covid Data Visualizer} {b|by} {c|Eric Horn}',
      left: 487, top: 11, padding: 0,
      textStyle: {
        rich: {
          a: { fontFamily: 'Lato', fontWeight: 'bold', fontSize: 21, color: '#444' },
          b: { fontFamily: 'Lato', fontSize: 16, color: '#555', padding: [0, 0, 0, 3] },
          c: { fontFamily: 'Lato', fontWeight: 'bold', fontSize: 17, color: '#2E5E9E', padding: [0, 0, 0, 2] }
        }
      }
    },
    heading('World Covid Death Data', 14, 78, 20.8),
    heading('Deaths Per Continent', 14, 274, 20.6),
    heading('Percent of Vaccinated Pop (includes boosters)', 14, 675, 22),
    heading('Percent of Population Infected', 1195, 77, 22),
    { text: 'Continent', left: 636, top: 314.5, padding: 0, textAlign: 'center', textVerticalAlign: 'middle', textStyle: { fontFamily: lightFont, fontWeight: 'normal', fontSize: 12.5, color: '#333' } },
    { text: 'Location', left: 1060, top: 655, padding: 0, textStyle: { fontFamily: lightFont, fontWeight: 'normal', fontSize: 13, color: '#222' } },
    { text: '© 2022 Mapbox  © OpenStreetMap', left: 1195, top: 1113, padding: 0, textStyle: { fontFamily: 'Roboto', fontWeight: 500, fontSize: 11, color: '#555' } }
  ],
  grid: [
    { left: 89.5, top: 336.3, width: 1093.5, height: 270.2 },
    { left: 69.6, top: 696.7, width: 982.2, height: 376.6 }
  ],
  xAxis: [
    {
      type: 'category',
      gridIndex: 0,
      data: continents,
      axisLine: { lineStyle: { color: '#EEEEEE' } },
      axisTick: { show: true, length: 10, lineStyle: { color: '#EEEEEE' }, alignWithLabel: false },
      axisLabel: { color: '#666', fontFamily: lightFont, fontSize: 13, margin: 5 }
    },
    {
      type: 'time',
      gridIndex: 1,
      min: '2019-11-12',
      max: '2022-10-22',
      splitNumber: 34,
      minInterval: 28 * 86400000,
      maxInterval: 31 * 86400000,
      name: 'Month of Date',
      nameLocation: 'middle',
      nameGap: 43,
      nameTextStyle: { color: '#333', fontFamily: lightFont, fontSize: 13, fontWeight: 'bold' },
      splitLine: { show: false },
      axisLine: { lineStyle: { color: '#EEEEEE' } },
      axisTick: { show: true, length: 5, lineStyle: { color: '#DDDDDD' } },
      axisLabel: {
        color: '#666',
        fontFamily: lightFont,
        fontSize: 13,
        margin: 9,
        hideOverlap: false,
        showMinLabel: false,
        showMaxLabel: false,
        formatter: function (value) {
          const d = new Date(value);
          const m = d.getMonth();
          // only every fourth month gets a label, starting april 2020
          if (d.getFullYear() < 2020 || d.getDate() !== 1 || (m !== 3 && m !== 7 && m !== 11)) return '';
          return monthNames[m] + ' ' + d.getFullYear();
        }
      }
    }
  ],
  yAxis: [
    {
      type: 'value',
      gridIndex: 0,
      min: 0,
      max: 2000000,
      splitNumber: 4,
      name: 'Total Deaths',
      nameLocation: 'middle',
      nameGap: 58,
      nameTextStyle: { color: '#333', fontFamily: 'Open Sans', fontSize: 11.5, fontWeight: 600 },
      axisLine: { show: true, lineStyle: { color: '#EEEEEE' } },
      axisTick: { show: false },
      splitLine: { lineStyle: { color: '#F0F0F0', width: 1 } },
      axisLabel: {
        color: '#666',
        fontFamily: lightFont,
        fontSize: 13,
        margin: 6,
        // end labels sit inside the plot like the original
        formatter: function (v) {
          if (v === 2000000) return '{low|2000K}';
          if (v === 0) return '{high|0K}';
          return v / 1000 + 'K';
        },
        rich: {
          low: { color: '#666', fontFamily: lightFont, fontSize: 13, padding: [10, 0, 0, 0] },
          high: { color: '#666', fontFamily: lightFont, fontSize: 13, padding: [0, 0, 20, 0] }
        }
      }
    },
    {
      type: 'value',
      gridIndex: 1,
      min: -13.6,
      max: 270.8,
      splitNumber: 5,
      name: 'Avg. Percentof Pop Vaccinated',
      nameLocation: 'middle',
      nameGap: 38,
      nameTextStyle: { color: '#333', fontFamily: 'Open Sans', fontSize: 12, fontWeight: 600 },
      axisLine: { show: true, lineStyle: { color: '#EEEEEE' } },
      axisTick: { show: false },
      splitLine: { showMinLine: false, showMaxLine: false, lineStyle: { color: '#F0F0F0', width: 1 } },
      axisLabel: {
        color: '#666',
        fontFamily: lightFont,
        fontSize: 13,
        margin: 7,
        showMinLabel: false,
        showMaxLabel: false
      }
    }
  ],
  legend: {
    orient: 'vertical',
    left: 1063,
    top: 676,
    padding: 0,
    itemWidth: 14,
    itemHeight: 14,
    itemGap: 6,
    icon: 'rect',
    selectedMode: false,
    data: ['Canada', 'China', 'Japan', 'Mexico', 'United Kingdom', 'United States'],
    textStyle: { color: '#666', fontFamily: lightFont, fontSize: 13 }
  },
  visualMap: {
    show: false,
    type: 'continuous',
    seriesIndex: 7,
    min: 0,
    max: 60,
    inRange: { color: ['#EEDC82', '#ECBC6F', '#E9A669', '#E39562', '#DB8060', '#CF6C52', '#C55C4A'] }
  },
  geo: {
    map: 'base',
    projection: mercator,
    boundingCoords: mapBounds,
    layoutCenter: [1777, 614],
    layoutSize: 908,
    roam: false,
    silent: true,
    itemStyle: { areaColor: '#F0EDE8', borderWidth: 0 },
    emphasis: { disabled: true },
    label: { show: false },
    regions: [
      { name: 'Ocean', itemStyle: { areaColor: '#89CBEE', borderWidth: 0 } },
      { name: 'Antarctica', itemStyle: { areaColor: '#F0EDE8', borderWidth: 0 } },
      { name: 'Svalbard', itemStyle: { areaColor: '#F0EDE8', borderWidth: 0 } }
    ]
  },
  series: [
    {
      type: 'bar',
      xAxisIndex: 0,
      yAxisIndex: 0,
      data: continentDeaths,
      barWidth: '58%',
      silent: true,
      itemStyle: { color: '#E1827A' }
    }
  ].concat(lineSeries).concat([
    {
      type: 'map',
      map: 'countries',
      projection: mercator,
      boundingCoords: mapBounds,
      layoutCenter: [1777, 614],
      layoutSize: 908,
      roam: false,
      silent: true,
      showLegendSymbol: false,
      z: 3,
      label: { show: false },
      emphasis: { disabled: true },
      itemStyle: { areaColor: '#F0EDE8', borderColor: '#6A6A6A', borderWidth: 1.2 },
      data: infectedNames.map(function (n, i) { return { name: n, value: infectedPct[i] }; })
    }
  ]),
  graphic: { elements: graphics }
};

myChart.setOption(option);
</script>
</body>
</html>
